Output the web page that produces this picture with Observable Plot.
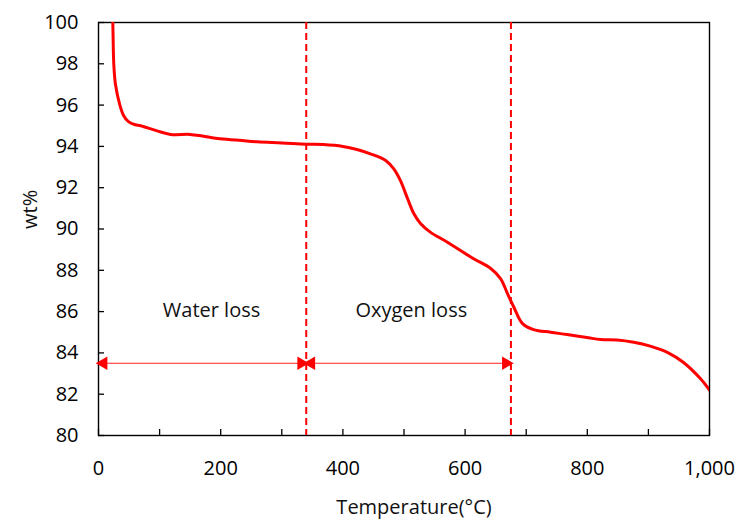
<!DOCTYPE html>
<html>
<head>
<meta charset="utf-8">
<script src="https://cdn.jsdelivr.net/npm/d3@7"></script>
<script src="https://cdn.jsdelivr.net/npm/@observablehq/plot@0.6"></script>
<style>
  html, body { margin: 0; padding: 0; background: #fff; }
</style>
</head>
<body>
<div id="chart"></div>
<script>
const temperature = [22.5, 23.4, 25, 27.8, 35, 41, 49, 60, 69, 96, 118, 150, 170, 195, 230, 260, 300, 340, 368, 400, 423, 445, 470, 483, 494, 506, 516, 527, 543, 571, 614, 642, 658, 669, 680, 694, 712, 740, 767, 802, 822, 849, 876, 903, 931, 957, 985, 1000];
const weight = [100.5, 100, 98, 97, 96, 95.5, 95.2, 95.05, 95.0, 94.75, 94.58, 94.58, 94.5, 94.38, 94.3, 94.22, 94.17, 94.11, 94.09, 94.0, 93.85, 93.64, 93.32, 92.92, 92.35, 91.46, 90.75, 90.27, 89.85, 89.36, 88.56, 88.09, 87.6, 86.9, 86.2, 85.42, 85.13, 85.0, 84.89, 84.73, 84.65, 84.63, 84.52, 84.33, 84.03, 83.55, 82.76, 82.2];

const boundaries = [340, 675];
const arrowStart = [0, 340];
const arrowEnd = [340, 675];
const arrowLevel = 83.5;
const regionLabels = ["Water loss", "Oxygen loss"];
const regionLabelX = [185, 512];
const regionLabelY = 86.05;

const xTicks = d3.range(0, 1001, 100);
const xLabels = d3.range(0, 1001, 200);
const yTicks = d3.range(80, 101, 2);

const curve = temperature.map((t, i) => ({t, w: weight[i]}));
const segments = arrowStart.map((s, i) => ({s, e: arrowEnd[i], y: arrowLevel}));
const labels = regionLabels.map((text, i) => ({text, x: regionLabelX[i], y: regionLabelY}));

const red = "#ff0000";
const font = "'Open Sans', sans-serif";

const chart = Plot.plot({
  width: 739,
  height: 521,
  marginLeft: 98,
  marginRight: 30,
  marginTop: 22,
  marginBottom: 86,
  style: {fontFamily: font, fontSize: "20px", background: "#fff", color: "#000"},
  x: {domain: [0, 1000]},
  y: {domain: [80, 100]},
  marks: [
    Plot.axisX({ticks: xTicks, tickSize: -6, tickFormat: () => "", label: null, strokeWidth: 1.3}),
    Plot.axisX({ticks: xLabels, tickSize: 0, tickPadding: 25, tickFormat: d3.format(","), label: null, fontSize: 20}),
    Plot.axisY({ticks: yTicks, tickSize: -6, tickFormat: () => "", label: null, strokeWidth: 1.3}),
    Plot.axisY({ticks: yTicks, tickSize: 0, tickPadding: 20, label: null, fontSize: 20}),
    Plot.frame({stroke: "#000", strokeWidth: 1.4}),
    Plot.ruleX(boundaries, {stroke: red, strokeWidth: 2, strokeDasharray: "7,4"}),
    Plot.link(segments, {x1: "s", x2: "e", y1: "y", y2: "y", stroke: "#ff2020", strokeWidth: 1.2}),
    Plot.dot(segments, {x: "s", y: "y", symbol: "triangle", r: 5, fill: red, stroke: null, rotate: -90, dx: 5}),
    Plot.dot(segments, {x: "e", y: "y", symbol: "triangle", r: 5, fill: red, stroke: null, rotate: 90, dx: -5}),
    Plot.line(curve, {x: "t", y: "w", stroke: red, strokeWidth: 3, curve: "catmull-rom", clip: true}),
    Plot.text(labels, {x: "x", y: "y", text: "text", fontSize: 20, fill: "#111"}),
    Plot.text(["wt%"], {frameAnchor: "left", dx: -68, rotate: -90, fontSize: 20, fill: "#111"}),
    Plot.text(["Temperature(°C)"], {frameAnchor: "bottom", dy: 78, dx: 10, fontSize: 20, fill: "#111"})
  ]
});
document.getElementById("chart").appendChild(chart);
</script>
</body>
</html>
